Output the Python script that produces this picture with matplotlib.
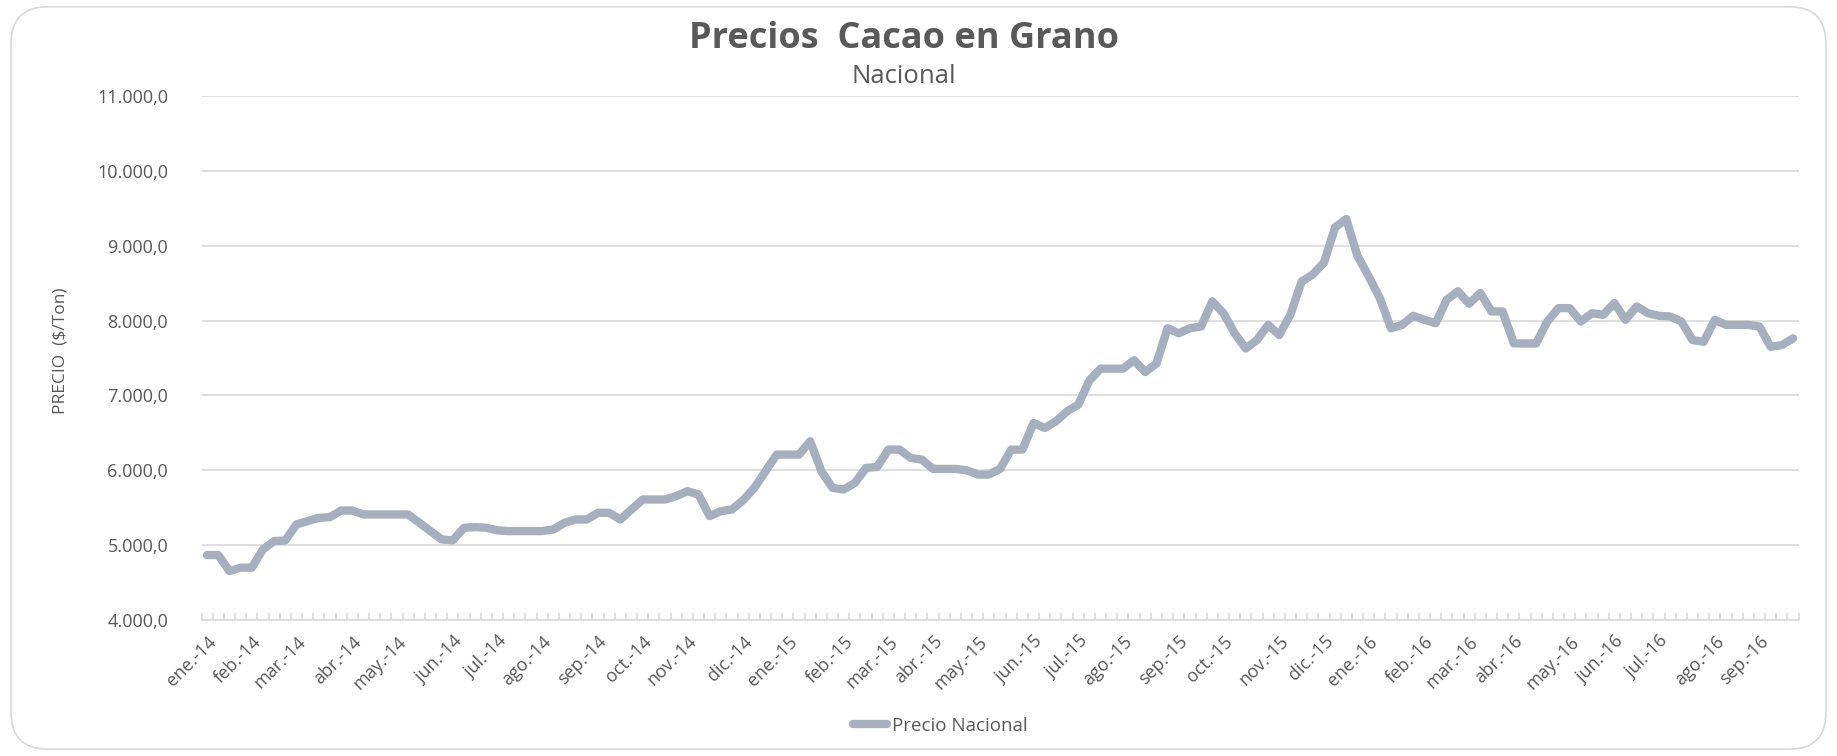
import pandas as pd
import matplotlib
matplotlib.use("Agg")
import matplotlib.pyplot as plt
from matplotlib.patches import FancyBboxPatch
from matplotlib.ticker import FuncFormatter, FixedLocator

plt.rcParams['font.family'] = ['Open Sans', 'DejaVu Sans']

# Weekly national price of cocoa beans ($/Ton), Jan 2014 - Sep 2016
precio_nacional = [
    4867, 4867, 4653, 4698, 4698, 4942, 5053, 5062, 5276, 5320,
    5364, 5373, 5462, 5462, 5409, 5409, 5409, 5409, 5409, 5298,
    5187, 5076, 5062, 5231, 5240, 5231, 5196, 5187, 5187, 5187,
    5187, 5209, 5298, 5342, 5342, 5431, 5431, 5342, 5476, 5609,
    5609, 5609, 5653, 5720, 5676, 5387, 5453, 5476, 5600, 5764,
    5987, 6209, 6209, 6209, 6387, 5987, 5764, 5742, 5831, 6031,
    6044, 6276, 6276, 6164, 6142, 6018, 6018, 6018, 6000, 5942,
    5942, 6018, 6276, 6276, 6631, 6564, 6653, 6787, 6876, 7200,
    7357, 7357, 7357, 7470, 7312, 7425, 7897, 7830, 7897, 7920,
    8256, 8099, 7830, 7627, 7739, 7942, 7807, 8080, 8520, 8616,
    8773, 9245, 9357, 8863, 8593, 8301, 7897, 7942, 8063, 8009,
    7964, 8279, 8391, 8225, 8369, 8121, 8121, 7694, 7694, 7694,
    7987, 8166, 8166, 7987, 8099, 8076, 8234, 8009, 8189, 8099,
    8063, 8054, 7987, 7739, 7717, 8009, 7942, 7942, 7942, 7920,
    7649, 7672, 7762,
]
semanas = pd.date_range("2014-01-04", periods=len(precio_nacional), freq="W-SAT")
meses = ["ene.", "feb.", "mar.", "abr.", "may.", "jun.",
         "jul.", "ago.", "sep.", "oct.", "nov.", "dic."]
y_ticks = [4000, 5000, 6000, 7000, 8000, 9000, 10000, 11000]

TEXT = "#595959"
GRID = "#D9D9D9"
LINE = "#A7AFBF"

fig = plt.figure(figsize=(18.37, 7.56), dpi=100)
ax = fig.add_axes([0.1097, 0.180, 0.8694, 0.693])

x = list(range(len(precio_nacional)))
ax.plot(x, precio_nacional, color=LINE, lw=6, solid_joinstyle="round",
        solid_capstyle="round", label="Precio Nacional", zorder=3)

ax.set_xlim(-0.5, len(x) - 0.5)
ax.set_ylim(y_ticks[0], y_ticks[-1])
ax.set_yticks(y_ticks)
ax.yaxis.set_major_formatter(FuncFormatter(
    lambda v, p: f"{v:,.1f}".replace(",", "X").replace(".", ",").replace("X", ".")))
ax.grid(axis="y", color=GRID, lw=1.2)
ax.set_axisbelow(True)

# month labels on the first week of each month
pos, labs = [], []
prev = None
for i, d in enumerate(semanas):
    if d.month != prev:
        pos.append(i)
        labs.append(f"{meses[d.month - 1]}-{d.strftime('%y')}")
        prev = d.month
ax.set_xticks(pos)
ax.set_xticklabels(labs, rotation=45, ha="right", rotation_mode="anchor")
ax.tick_params(axis="x", length=0, pad=9, labelsize=13, labelcolor=TEXT)
ax.xaxis.set_minor_locator(FixedLocator([i - 0.5 for i in range(len(x) + 1)]))
ax.tick_params(axis="x", which="minor", direction="in", length=5, color=GRID, width=1.2)
ax.tick_params(axis="y", length=0, pad=24, labelsize=13, labelcolor=TEXT)

for s in ["top", "right", "left"]:
    ax.spines[s].set_visible(False)
ax.spines["bottom"].set_color(GRID)
ax.spines["bottom"].set_linewidth(1.2)

fig.text(0.033, 0.536, "PRECIO  ($/Ton)", rotation=90, ha="center", va="center",
         fontsize=12.5, color=TEXT, family=["Liberation Sans Narrow", "Open Sans", "DejaVu Sans"])

fig.text(0.492, 0.949, "Precios  Cacao en Grano", ha="center", va="center",
         fontsize=26, fontweight="bold", color=TEXT)
fig.text(0.492, 0.899, "Nacional", ha="center", va="center", fontsize=18.5, color=TEXT)

ax.legend(loc="center", bbox_to_anchor=(0.512, 0.04), bbox_transform=fig.transFigure,
          frameon=False, fontsize=13.5, labelcolor=TEXT, handlelength=1.8, handletextpad=0.3)

border = FancyBboxPatch((0.006, 0.009), 0.988, 0.982, boxstyle="round,pad=0,rounding_size=0.02",
                        transform=fig.transFigure, fill=False, edgecolor=GRID, lw=1.2,
                        mutation_aspect=1837 / 756)
fig.patches.append(border)

fig.savefig("out.png", dpi=100, facecolor="white")
